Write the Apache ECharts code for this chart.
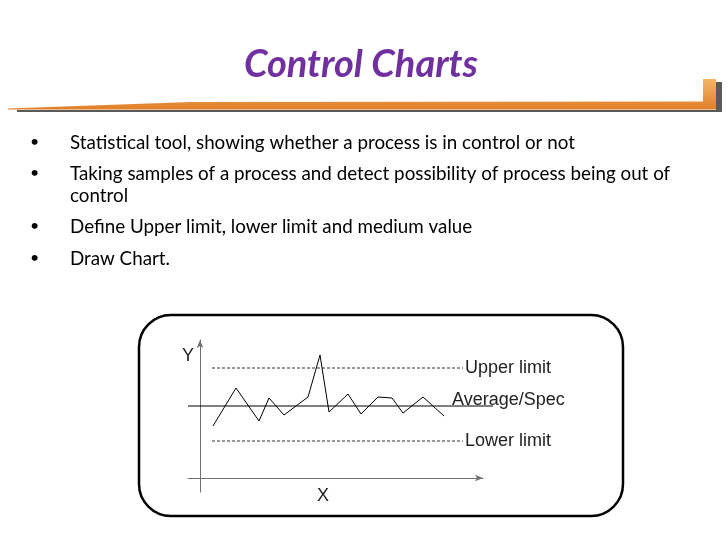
<!DOCTYPE html>
<html>
<head>
<meta charset="utf-8">
<title>Control Charts</title>
<script src="https://cdn.jsdelivr.net/npm/echarts@6/dist/echarts.min.js"></script>
<style>
  html, body { margin: 0; padding: 0; background: #fff; }
  #main { width: 728px; height: 546px; }
</style>
</head>
<body>
<div id="main"></div>
<script>
var sampleX = [1.3, 3.6, 5.9, 6.9, 8.4, 10.8, 12.0, 12.9, 14.8, 16.1, 17.8, 19.2, 20.3, 22.3, 24.4];
var sampleY = [5.2, 9.0, 5.7, 8.0, 6.3, 8.1, 12.3, 6.6, 8.4, 6.4, 8.1, 8.0, 6.5, 8.1, 6.2];

var upperLimit = 11.0;
var averageSpec = 7.2;
var lowerLimit = 3.7;
var limitSpan = [1.2, 26.3];     // x range of the dashed limit lines
var averageSpan = [-1.2, 29.3];  // x range of the average line (runs past the axis arrow)

var bullets = [
    'Statistical tool, showing whether a process is in control or not',
    'Taking samples of a process and detect possibility of process being out of',
    'control',
    'Define Upper limit, lower limit and medium value',
    'Draw Chart.'
];
var bulletY = [143, 174, 196, 227, 259];
var bulletDot = [true, true, false, true, true];

var points = sampleX.map(function (x, i) { return [x, sampleY[i]]; });

function hLine(y, span) {
    return [[span[0], y], [span[1], y]];
}

var labelFont = '"Liberation Sans", Arial, sans-serif';
var bodyFont = 'Lato, "Open Sans", sans-serif';

var graphics = [];

// orange title rule with its shadow
graphics.push({
    type: 'polygon', z: 1, silent: true,
    shape: { points: [[17, 110], [716, 110], [716, 82], [722, 82], [722, 112], [17, 112]] },
    style: { fill: '#5a5a5a' }
});
graphics.push({
    type: 'polygon', z: 2, silent: true,
    shape: { points: [[8, 108.5], [190, 102], [703, 101.5], [703, 79], [716, 79], [716, 109.5], [8, 109.5]] },
    style: {
        fill: new echarts.graphic.LinearGradient(0, 0, 0, 1, [
            { offset: 0, color: '#f6b56a' },
            { offset: 1, color: '#e07f28' }
        ])
    }
});

// bullet list
bullets.forEach(function (t, i) {
    if (bulletDot[i]) {
        graphics.push({
            type: 'text', left: 30, top: bulletY[i] - 9, silent: true,
            style: { text: '•', font: '16px ' + bodyFont, fill: '#000' }
        });
    }
    graphics.push({
        type: 'text', left: 70, top: bulletY[i] - 10, silent: true,
        style: { text: t, font: '18.8px ' + bodyFont, fill: '#000' }
    });
});

// rounded frame around the chart
graphics.push({
    type: 'rect', z: 0, silent: true,
    shape: { x: 139, y: 315, width: 484, height: 201, r: 32 },
    style: { fill: 'none', stroke: '#000', lineWidth: 2.5 }
});

// axis letters and the average label
graphics.push({
    type: 'text', left: 182, top: 347, silent: true,
    style: { text: 'Y', font: '18px ' + labelFont, fill: '#222' }
});
graphics.push({
    type: 'text', left: 317, top: 487, silent: true,
    style: { text: 'X', font: '18px ' + labelFont, fill: '#222' }
});
graphics.push({
    type: 'text', left: 452, top: 391, silent: true, z: 10,
    style: { text: 'Average/Spec', font: '18px ' + labelFont, fill: '#222' }
});

var endLabel = function (txt) {
    return {
        show: true, distance: 2,
        formatter: txt,
        fontFamily: labelFont, fontSize: 18, color: '#222'
    };
};

var hiddenAxis = {
    axisLine: { show: false }, axisTick: { show: false },
    axisLabel: { show: false }, splitLine: { show: false }
};

var option = {
    animation: false,
    title: {
        text: 'Control Charts',
        left: 239, top: 41,
        textStyle: {
            fontFamily: bodyFont, fontStyle: 'italic', fontWeight: 'bold',
            fontSize: 38, color: '#7030a0'
        }
    },
    graphic: graphics,
    grid: [
        { left: 188, right: 245, top: 340, bottom: 54 },
        // same vertical scale, a bit wider, for the average line
        { left: 188, right: 235, top: 340, bottom: 54 }
    ],
    xAxis: [
        {
            type: 'value', gridIndex: 0, min: -1.2, max: 28.3,
            axisLine: {
                onZero: true, symbol: ['none', 'arrow'], symbolSize: [5, 8],
                lineStyle: { color: '#707070', width: 1 }
            },
            axisTick: { show: false }, axisLabel: { show: false }, splitLine: { show: false }
        },
        Object.assign({ type: 'value', gridIndex: 1, min: averageSpan[0], max: averageSpan[1] }, hiddenAxis)
    ],
    yAxis: [
        {
            type: 'value', gridIndex: 0, min: -1.4, max: 13.8,
            axisLine: {
                show: true, onZero: true, symbol: ['none', 'arrow'], symbolSize: [5, 8],
                lineStyle: { color: '#707070', width: 1 }
            },
            axisTick: { show: false }, axisLabel: { show: false }, splitLine: { show: false }
        },
        Object.assign({ type: 'value', gridIndex: 1, min: -1.4, max: 13.8 }, hiddenAxis)
    ],
    series: [
        {
            name: 'Upper limit', type: 'line', symbol: 'none', silent: true,
            data: hLine(upperLimit, limitSpan),
            lineStyle: { color: '#333', width: 1, type: [3, 2] },
            endLabel: endLabel('Upper limit')
        },
        {
            name: 'Lower limit', type: 'line', symbol: 'none', silent: true,
            data: hLine(lowerLimit, limitSpan),
            lineStyle: { color: '#333', width: 1, type: [3, 2] },
            endLabel: endLabel('Lower limit')
        },
        {
            name: 'Average/Spec', type: 'line', symbol: 'none', silent: true,
            xAxisIndex: 1, yAxisIndex: 1,
            data: hLine(averageSpec, averageSpan),
            lineStyle: { color: '#000', width: 1 }
        },
        {
            name: 'Samples', type: 'line', symbol: 'none', silent: true,
            data: points,
            lineStyle: { color: '#000', width: 1 }
        }
    ]
};

var myChart = echarts.init(document.getElementById('main'));
myChart.setOption(option);
</script>
</body>
</html>
